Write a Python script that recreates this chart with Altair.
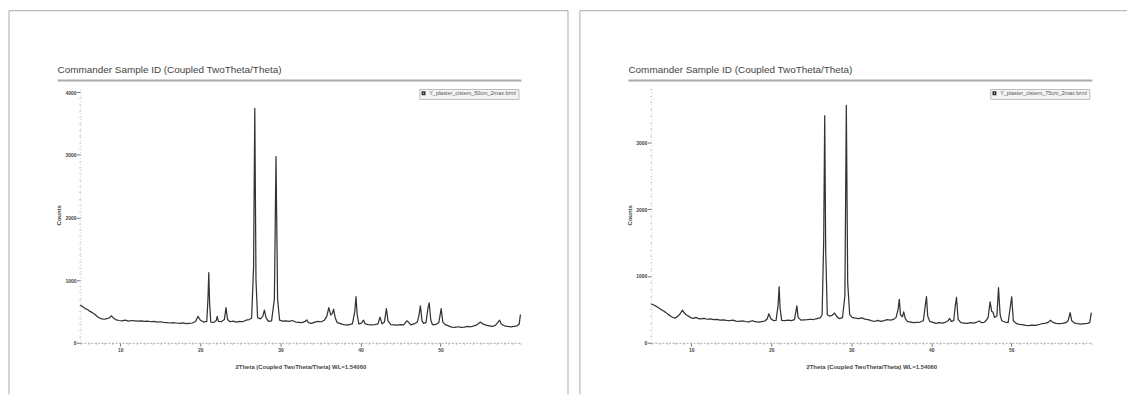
import altair as alt
import pandas as pd

# ---------------- data ----------------
left_tt = [5.0, 5.3, 5.6, 5.9, 6.2, 6.5, 6.8, 7.1, 7.4, 7.7, 8.0, 8.3, 8.6, 8.9, 9.1, 9.4, 9.8,
           10.2, 10.6, 11.0, 11.4, 11.8, 12.2, 12.6, 13.0, 13.4, 13.8, 14.2, 14.6, 15.0, 15.4,
           15.8, 16.2, 16.6, 17.0, 17.4, 17.8, 18.2, 18.6, 19.0, 19.4, 19.7, 20.0, 20.4, 20.8,
           20.95, 21.05, 21.15, 21.3, 21.7, 22.0, 22.1, 22.25, 22.6, 23.0, 23.2, 23.4, 23.7,
           24.1, 24.5, 24.9, 25.3, 25.7, 26.1, 26.4, 26.65, 26.8, 26.95, 27.15, 27.5, 27.8,
           28.0, 28.2, 28.5, 28.9, 29.25, 29.45, 29.65, 29.9, 30.3, 30.7, 31.1, 31.5, 31.9,
           32.3, 32.7, 33.1, 33.3, 33.5, 33.9, 34.3, 34.7, 35.1, 35.5, 35.8, 36.05, 36.3, 36.5,
           36.65, 36.85, 37.1, 37.5, 37.9, 38.3, 38.6, 39.0, 39.3, 39.45, 39.6, 39.8, 40.1,
           40.4, 40.6, 41.0, 41.4, 41.8, 42.2, 42.45, 42.7, 43.0, 43.25, 43.45, 43.8, 44.2,
           44.6, 45.0, 45.4, 45.8, 46.0, 46.3, 46.7, 47.1, 47.3, 47.5, 47.7, 47.9, 48.2, 48.45,
           48.6, 48.8, 49.0, 49.4, 49.8, 50.1, 50.3, 50.6, 51.0, 51.4, 51.8, 52.2, 52.6, 53.0,
           53.4, 53.8, 54.2, 54.6, 55.0, 55.3, 55.7, 56.1, 56.5, 56.9, 57.2, 57.4, 57.6, 58.0,
           58.4, 58.8, 59.2, 59.6, 59.85, 60.0]
left_counts = [600, 575, 545, 530, 500, 480, 455, 420, 395, 380, 375, 385, 395, 430, 400, 370, 355,
               350, 360, 345, 355, 350, 345, 350, 340, 345, 335, 340, 330, 335, 325,
               320, 315, 320, 315, 310, 318, 305, 310, 315, 340, 420, 360, 330, 340,
               700, 1120, 650, 330, 325, 360, 420, 340, 335, 370, 560, 370, 335,
               345, 330, 340, 335, 360, 370, 390, 1200, 3740, 1000, 400, 380, 420,
               520, 400, 340, 350, 700, 2970, 700, 360, 345, 350, 340, 355, 330,
               325, 320, 340, 365, 320, 310, 330, 340, 335, 360, 420, 560, 440, 470,
               535, 400, 320, 305, 290, 280, 290, 300, 500, 735, 450, 300, 310,
               360, 300, 290, 285, 290, 300, 410, 300, 330, 545, 350, 290, 285,
               280, 290, 285, 350, 330, 285, 300, 330, 420, 590, 350, 310, 320, 560,
               635, 360, 290, 290, 320, 545, 330, 290, 270, 250, 245, 255, 245, 250,
               260, 255, 270, 290, 330, 300, 280, 270, 260, 280, 330, 360, 300, 270,
               260, 255, 260, 270, 300, 450]

right_tt = [5.0, 5.3, 5.6, 5.9, 6.2, 6.5, 6.8, 7.1, 7.4, 7.7, 8.0, 8.3, 8.6, 8.9, 9.1, 9.4, 9.7,
            10.0, 10.3, 10.6, 10.9, 11.2, 11.6, 12.0, 12.4, 12.8, 13.2, 13.6, 14.0, 14.4, 14.8,
            15.2, 15.6, 16.0, 16.4, 16.8, 17.2, 17.6, 18.0, 18.4, 18.8, 19.2, 19.5, 19.7, 19.95,
            20.3, 20.6, 20.85, 20.98, 21.1, 21.3, 21.7, 22.1, 22.5, 22.9, 23.05, 23.2, 23.35,
            23.7, 24.1, 24.5, 24.9, 25.3, 25.7, 26.1, 26.35, 26.55, 26.68, 26.8, 27.0, 27.3,
            27.6, 27.9, 28.15, 28.5, 28.9, 29.2, 29.38, 29.55, 29.8, 30.1, 30.5, 30.9, 31.3,
            31.7, 32.1, 32.5, 32.9, 33.3, 33.7, 34.1, 34.5, 34.9, 35.3, 35.6, 35.85, 36.0,
            36.15, 36.4, 36.55, 36.75, 37.0, 37.4, 37.8, 38.2, 38.6, 39.0, 39.25, 39.4, 39.55,
            39.8, 40.2, 40.6, 41.0, 41.4, 41.8, 42.1, 42.3, 42.5, 42.8, 43.0, 43.15, 43.35,
            43.7, 44.1, 44.5, 44.9, 45.3, 45.7, 46.0, 46.3, 46.6, 46.9, 47.1, 47.35, 47.55,
            47.7, 47.9, 48.2, 48.4, 48.6, 48.8, 49.2, 49.6, 49.9, 50.05, 50.25, 50.6, 51.0,
            51.4, 51.8, 52.2, 52.6, 53.0, 53.4, 53.8, 54.2, 54.6, 54.9, 55.2, 55.6, 56.0, 56.4,
            56.8, 57.1, 57.35, 57.55, 57.9, 58.3, 58.7, 59.1, 59.5, 59.8, 60.0]
right_counts = [580, 565, 548, 525, 500, 478, 455, 425, 400, 378, 370, 395, 430, 488, 450, 415, 395,
                372, 365, 380, 360, 358, 365, 352, 358, 345, 350, 338, 342, 335, 330,
                338, 325, 320, 328, 318, 312, 330, 315, 310, 318, 325, 360, 434, 360,
                330, 335, 560, 840, 520, 335, 330, 338, 332, 345, 450, 553, 380,
                338, 342, 345, 352, 348, 360, 372, 420, 1500, 3400, 1400, 420, 400,
                410, 445, 400, 360, 375, 700, 3555, 900, 420, 380, 370, 362, 372,
                355, 345, 330, 318, 335, 320, 330, 345, 340, 350, 380, 500, 650,
                420, 390, 461, 360, 320, 310, 300, 305, 310, 330, 560, 690, 400,
                320, 305, 290, 300, 295, 310, 330, 364, 320, 330, 560, 678, 350,
                300, 295, 290, 300, 295, 310, 325, 300, 305, 340, 380, 613, 470,
                461, 380, 400, 825, 420, 330, 310, 300, 560, 689, 330, 290, 275,
                270, 260, 258, 265, 260, 270, 285, 290, 305, 336, 305, 290, 285, 290,
                300, 330, 450, 330, 295, 285, 280, 285, 290, 300, 450]

panel_titles = ["Commander Sample ID (Coupled TwoTheta/Theta)",
                "Commander Sample ID (Coupled TwoTheta/Theta)"]
sample_names = ["Y_plaster_cistern_50cm_2max.brml",
                "Y_plaster_cistern_75cm_2max.brml"]
x_title = "2Theta (Coupled TwoTheta/Theta) WL=1.54060"
y_title = "Counts"
x_domain = [5, 60]
y_tops = [4080, 3830]
x_tick_values = list(range(5, 61))          # minor every 1 deg, labels every 10
FONT = "Liberation Sans"

W, H = 444, 258
one = pd.DataFrame({"k": [0]})


def panel(tt, counts, name, title, ymax, right_end, draw_right):
    df = pd.DataFrame({"tt": tt, "counts": counts, "sample": name})
    y_tick_values = list(range(0, ymax + 1, 100))
    line = alt.Chart(df).mark_line(strokeWidth=1.25, strokeJoin="round").encode(
        x=alt.X("tt:Q",
                scale=alt.Scale(domain=x_domain, nice=False, zero=False),
                axis=alt.Axis(values=x_tick_values, format="d",
                              labelExpr="(datum.value % 10 === 0 && datum.value < 60) ? datum.label : ''",
                              tickSize={"condition": {"test": "datum.value % 10 === 0 && datum.value < 60", "value": 3.5}, "value": 1.5},
                              tickColor={"condition": {"test": "datum.value % 10 === 0 && datum.value < 60", "value": "#555"}, "value": "#999"},
                              tickWidth=0.8,
                              domainColor="#aaa", domainDash=[2, 1.5], domainWidth=1,
                              labelFont=FONT, labelFontSize=5, labelFontWeight="bold",
                              labelColor="#444", labelPadding=1, grid=False,
                              title=x_title, titleFont=FONT, titleFontSize=6,
                              titleFontWeight="bold", titleColor="#444", titlePadding=11)),
        y=alt.Y("counts:Q",
                scale=alt.Scale(domain=[0, ymax], nice=False, zero=True),
                axis=alt.Axis(values=y_tick_values, format="d",
                              labelExpr="datum.value % 1000 === 0 ? datum.label : ''",
                              tickSize={"condition": {"test": "datum.value % 1000 === 0", "value": 4}, "value": 1.5},
                              tickColor={"condition": {"test": "datum.value % 1000 === 0", "value": "#555"}, "value": "#aaa"},
                              tickWidth=0.8,
                              domainColor="#ccc", domainDash=[1, 2], domainWidth=1,
                              labelFont=FONT, labelFontSize=5, labelFontWeight="bold",
                              labelColor="#444", labelPadding=0.5, grid=False,
                              title=y_title, titleFont=FONT, titleFontSize=6,
                              titleFontWeight="bold", titleColor="#444", titlePadding=3)),
        color=alt.Color("sample:N", scale=alt.Scale(range=["#333333"]),
                        legend=alt.Legend(title=None, orient="top-right", offset=2,
                                          padding=1.5, strokeColor="#bbb", fillColor="#f4f4f4",
                                          labelFont=FONT, labelFontSize=5.5, labelColor="#555",
                                          symbolType="square", symbolSize=6,
                                          symbolStrokeWidth=1.5, labelOffset=3)),
    )
    title_text = alt.Chart(one).mark_text(
        text=title, align="left", baseline="alphabetic", font=FONT,
        fontSize=10, color="#444").encode(x=alt.value(-23), y=alt.value(-14))
    underline = alt.Chart(one).mark_rule(color="#aaa", strokeWidth=2).encode(
        x=alt.value(-23), x2=alt.value(W + 1), y=alt.value(-6.5))
    top_border = alt.Chart(one).mark_rule(color="#aaa", strokeWidth=1).encode(
        x=alt.value(-72), x2=alt.value(right_end), y=alt.value(-77))
    left_border = alt.Chart(one).mark_rule(color="#aaa", strokeWidth=1).encode(
        x=alt.value(-72), y=alt.value(-77), y2=alt.value(310))
    layers = [top_border, left_border, title_text, underline, line]
    if draw_right:
        right_border = alt.Chart(one).mark_rule(color="#aaa", strokeWidth=1).encode(
            x=alt.value(right_end), y=alt.value(-77), y2=alt.value(310))
        layers.insert(2, right_border)
    return alt.layer(*layers).properties(width=W, height=H)


left = panel(left_tt, left_counts, sample_names[0], panel_titles[0], y_tops[0], 492, True)
right = panel(right_tt, right_counts, sample_names[1], panel_titles[1], y_tops[1], 480, False)

chart = alt.hconcat(left, right, spacing=10).resolve_scale(
    x="independent", y="independent", color="independent"
).resolve_legend(color="independent").configure(
    padding=0, background="white"
).configure_view(stroke=None)

chart.save("out.html", embed_options={"renderer": "svg", "actions": False})
